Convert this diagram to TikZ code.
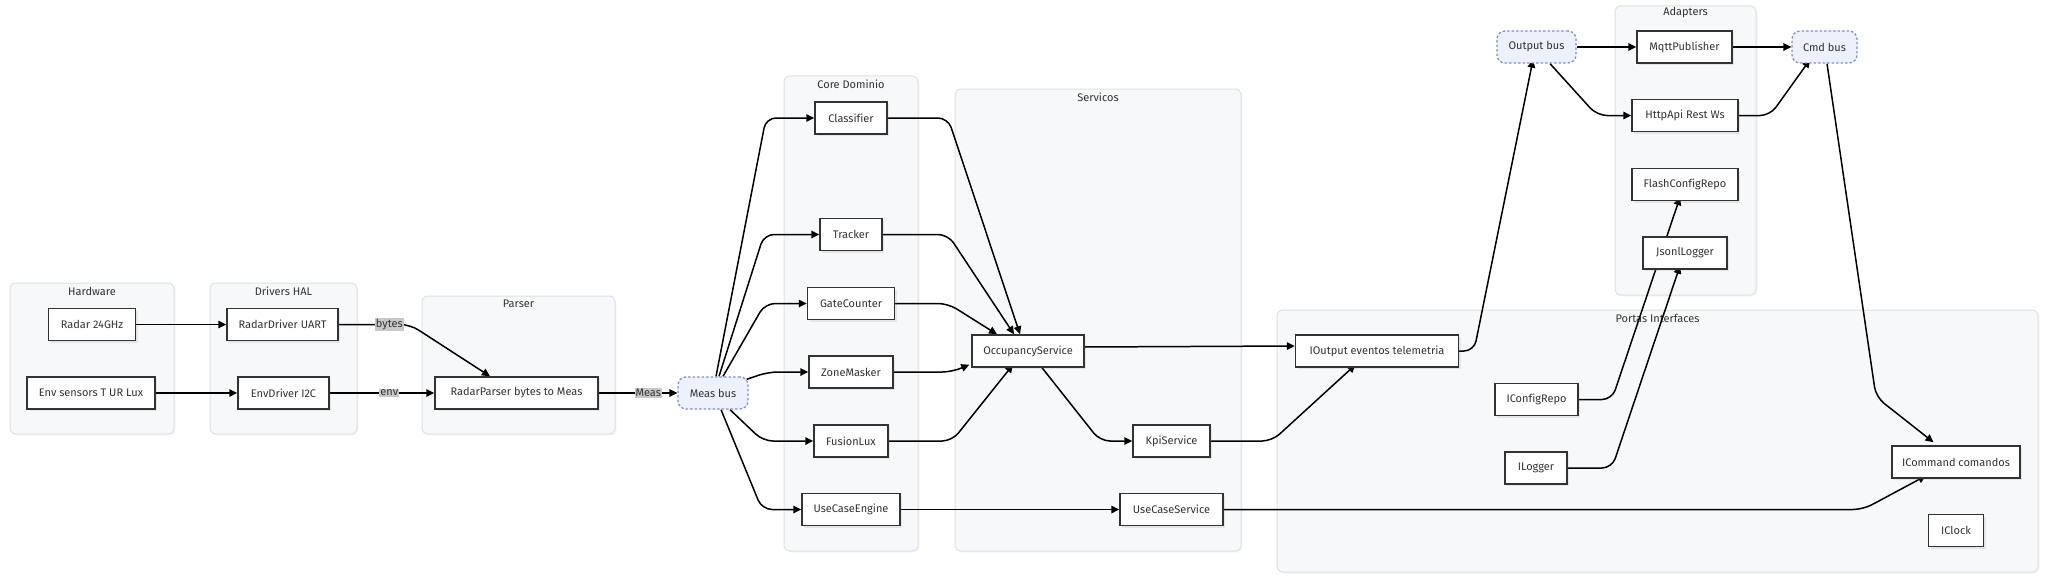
\documentclass[tikz,border=0pt]{standalone}
\usepackage{fontspec}
\setmainfont{Fira Sans}[Ligatures=NoCommon]
\usetikzlibrary{arrows.meta,calc,shadows}
\definecolor{clfill}{HTML}{F7F8FA}
\definecolor{cldraw}{HTML}{DDE0E6}
\definecolor{busfill}{HTML}{EDF1FC}
\definecolor{busdraw}{HTML}{7D8EE0}
\definecolor{boxdraw}{HTML}{333333}
\definecolor{txt}{HTML}{333333}
\definecolor{lblfill}{HTML}{C8C8C8}
\pgfdeclarelayer{bg}
\pgfdeclarelayer{edges}
\pgfsetlayers{bg,edges,main}
\tikzset{
  cluster/.style={draw=cldraw, fill=clfill, rounded corners=6pt, line width=1pt,
    drop shadow={shadow xshift=1.5pt, shadow yshift=-1.5pt, opacity=0.08}},
  ctitle/.style={text=txt, font=\fontsize{11}{13}\selectfont, inner sep=0pt},
  box/.style={draw=boxdraw, fill=white, line width=1.4pt, minimum height=32pt,
    text=txt, font=\fontsize{11}{13}\selectfont, inner sep=0pt,
    drop shadow={shadow xshift=2pt, shadow yshift=-2pt, opacity=0.15}},
  bus/.style={draw=busdraw, fill=busfill, dashed, dash pattern=on 2.5pt off 2pt,
    rounded corners=8pt, line width=1.3pt, minimum height=32pt,
    text=txt, font=\fontsize{11}{13}\selectfont, inner sep=0pt},
  edge/.style={line width=1.5pt, draw=black, rounded corners=10pt,
    -{Triangle[length=8pt,width=7.5pt]}},
  lbl/.style={fill=lblfill, text=txt, font=\fontsize{11}{13}\selectfont,
    inner sep=1pt, rounded corners=0pt}
}
\begin{document}
\begin{tikzpicture}[x=1pt,y=-1pt]
\useasboundingbox (0,0) rectangle (2048,578);
% clusters
\begin{pgfonlayer}{bg}
\node[cluster, minimum width=164pt, minimum height=151pt] (hw) at (92,358.5) {};
\node[cluster, minimum width=147pt, minimum height=151pt] (drv) at (283.5,358.5) {};
\node[cluster, minimum width=193pt, minimum height=138pt] (par) at (518.5,365) {};
\node[cluster, minimum width=134pt, minimum height=475pt] (core) at (851,313.5) {};
\node[cluster, minimum width=286pt, minimum height=462pt] (serv) at (1098,320) {};
\node[cluster, minimum width=761pt, minimum height=262pt] (portas) at (1657.5,441) {};
\node[cluster, minimum width=141pt, minimum height=289pt] (adap) at (1685.5,150.5) {};
\node[ctitle] (hwt) at (92,291) {Hardware};
\node[ctitle] (drvt) at (283.5,291) {Drivers HAL};
\node[ctitle] (part) at (518.5,304) {Parser};
\node[ctitle] (coret) at (851,84) {Core Dominio};
\node[ctitle] (servt) at (1098,97) {Servicos};
\node[ctitle] (portast) at (1657.5,318) {Portas Interfaces};
\node[ctitle] (adapt) at (1685.5,13) {Adapters};
\end{pgfonlayer}
% nodes
\node[box, minimum width=87pt] (radar) at (92,324.5) {Radar 24GHz};
\node[box, minimum width=128pt] (env) at (91,393) {Env sensors T UR Lux};
\node[box, minimum width=111pt] (rdrv) at (282.5,324.5) {RadarDriver UART};
\node[box, minimum width=91pt] (edrv) at (283.5,393) {EnvDriver I2C};
\node[box, minimum width=163pt] (rparser) at (516.5,393) {RadarParser bytes to Meas};
\node[bus, minimum width=70pt] (measbus) at (713,393) {Meas bus};
\node[box, minimum width=72pt] (classifier) at (851,118) {Classifier};
\node[box, minimum width=62pt] (tracker) at (851,234.5) {Tracker};
\node[box, minimum width=87pt] (gate) at (851,303.5) {GateCounter};
\node[box, minimum width=84pt] (zone) at (851,372) {ZoneMasker};
\node[box, minimum width=74pt] (fusion) at (851,441) {FusionLux};
\node[box, minimum width=98pt] (uce) at (851,509.5) {UseCaseEngine};
\node[box, minimum width=112pt] (occ) at (1028,351) {OccupancyService};
\node[box, minimum width=77pt] (kpi) at (1171.5,441) {KpiService};
\node[box, minimum width=103pt] (ucs) at (1171.5,509.5) {UseCaseService};
\node[box, minimum width=163pt] (iout) at (1377,351) {IOutput eventos telemetria};
\node[box, minimum width=83pt] (iconf) at (1536.5,399.5) {IConfigRepo};
\node[box, minimum width=62pt] (ilog) at (1536,468) {ILogger};
\node[box, minimum width=128pt] (icmd) at (1956,462) {ICommand comandos};
\node[box, minimum width=55pt] (iclock) at (1956,530.5) {IClock};
\node[bus, minimum width=79pt] (outbus) at (1536.5,47) {Output bus};
\node[box, minimum width=95pt] (mqtt) at (1684.5,47) {MqttPublisher};
\node[bus, minimum width=65pt] (cmdbus) at (1824.5,47) {Cmd bus};
\node[box, minimum width=106pt] (http) at (1685,115.5) {HttpApi Rest Ws};
\node[box, minimum width=106pt] (flash) at (1685,184.5) {FlashConfigRepo};
\node[box, minimum width=84pt] (jsonl) at (1685,253) {JsonlLogger};
% edges
\begin{pgfonlayer}{edges}
\draw[edge] (radar.east) -- (rdrv.west);
\draw[edge] (env.east) -- (edrv.west);
\draw[edge] (rdrv.east) -- node[lbl, pos=0.71] (lbytes) {bytes} (410,324.5) -- ($(rparser.north)+(-26.5,0)$);
\draw[edge] (edrv.east) -- node[lbl, pos=0.57] (lenv) {env} (rparser.west);
\draw[edge] (rparser.east) -- node[lbl, pos=0.63] (lmeas) {Meas} (measbus.west);
% Meas bus fan
\draw[edge] ($(measbus.north)+(3,0)$) -- (766,118) -- (classifier.west);
\draw[edge] ($(measbus.north)+(6,0)$) -- (764,234.5) -- (tracker.west);
\draw[edge] ($(measbus.north)+(10,0)$) -- (765,303.5) -- (gate.west);
\draw[edge] ($(measbus.north east)+(-2,3)$) -- (768,372) -- (zone.west);
\draw[edge] ($(measbus.south)+(17,0)$) -- (763,441) -- (fusion.west);
\draw[edge] ($(measbus.south)+(8,0)$) -- (762,509.5) -- (uce.west);
% into occupancy
\draw[edge] (classifier.east) -- (948,118) -- ($(occ.north)+(-8,0)$);
\draw[edge] (tracker.east) -- (948,234.5) -- ($(occ.north)+(-14,0)$);
\draw[edge] (gate.east) -- (948,303.5) -- ($(occ.north)+(-31,0)$);
\draw[edge] (zone.east) -- (952,372) -- ($(occ.south west)+(-2,-3)$);
\draw[edge] (fusion.east) -- (952,441) -- ($(occ.south)+(-15,-3)$);
\draw[edge] ($(occ.east)+(0,-4)$) -- ($(iout.west)+(0,-5)$);
\draw[edge] ($(occ.south)+(14,0)$) -- (1100,441) -- (kpi.west);
\draw[edge] (kpi.east) -- (1272,441) -- ($(iout.south)+(-21.5,-3)$);
\draw[edge] (uce.east) -- (ucs.west);
\draw[edge] (ucs.east) -- (1863,509.5) -- ($(icmd.south)+(-30,-3)$);
\draw[edge] (iout.east) -- (1474,351) -- ($(outbus.south)+(-3.5,-4)$);
\draw[edge] (outbus.east) -- (mqtt.west);
\draw[edge] ($(outbus.south)+(13.5,0)$) -- (1597,115.5) -- (http.west);
\draw[edge] (mqtt.east) -- (cmdbus.west);
\draw[edge] (http.east) -- (1770,115.5) -- ($(cmdbus.south)+(-14.5,-4)$);
\draw[edge] ($(cmdbus.south)+(2.5,0)$) -- (1876,397) -- ($(icmd.north)+(-22.5,-3)$);
\draw[edge] (iconf.east) -- (1612,399.5) -- ($(flash.south)+(-5,-4)$);
\draw[edge] (ilog.east) -- (1612,468) -- ($(jsonl.south)+(-5,-4)$);
\end{pgfonlayer}
\end{tikzpicture}
\end{document}
